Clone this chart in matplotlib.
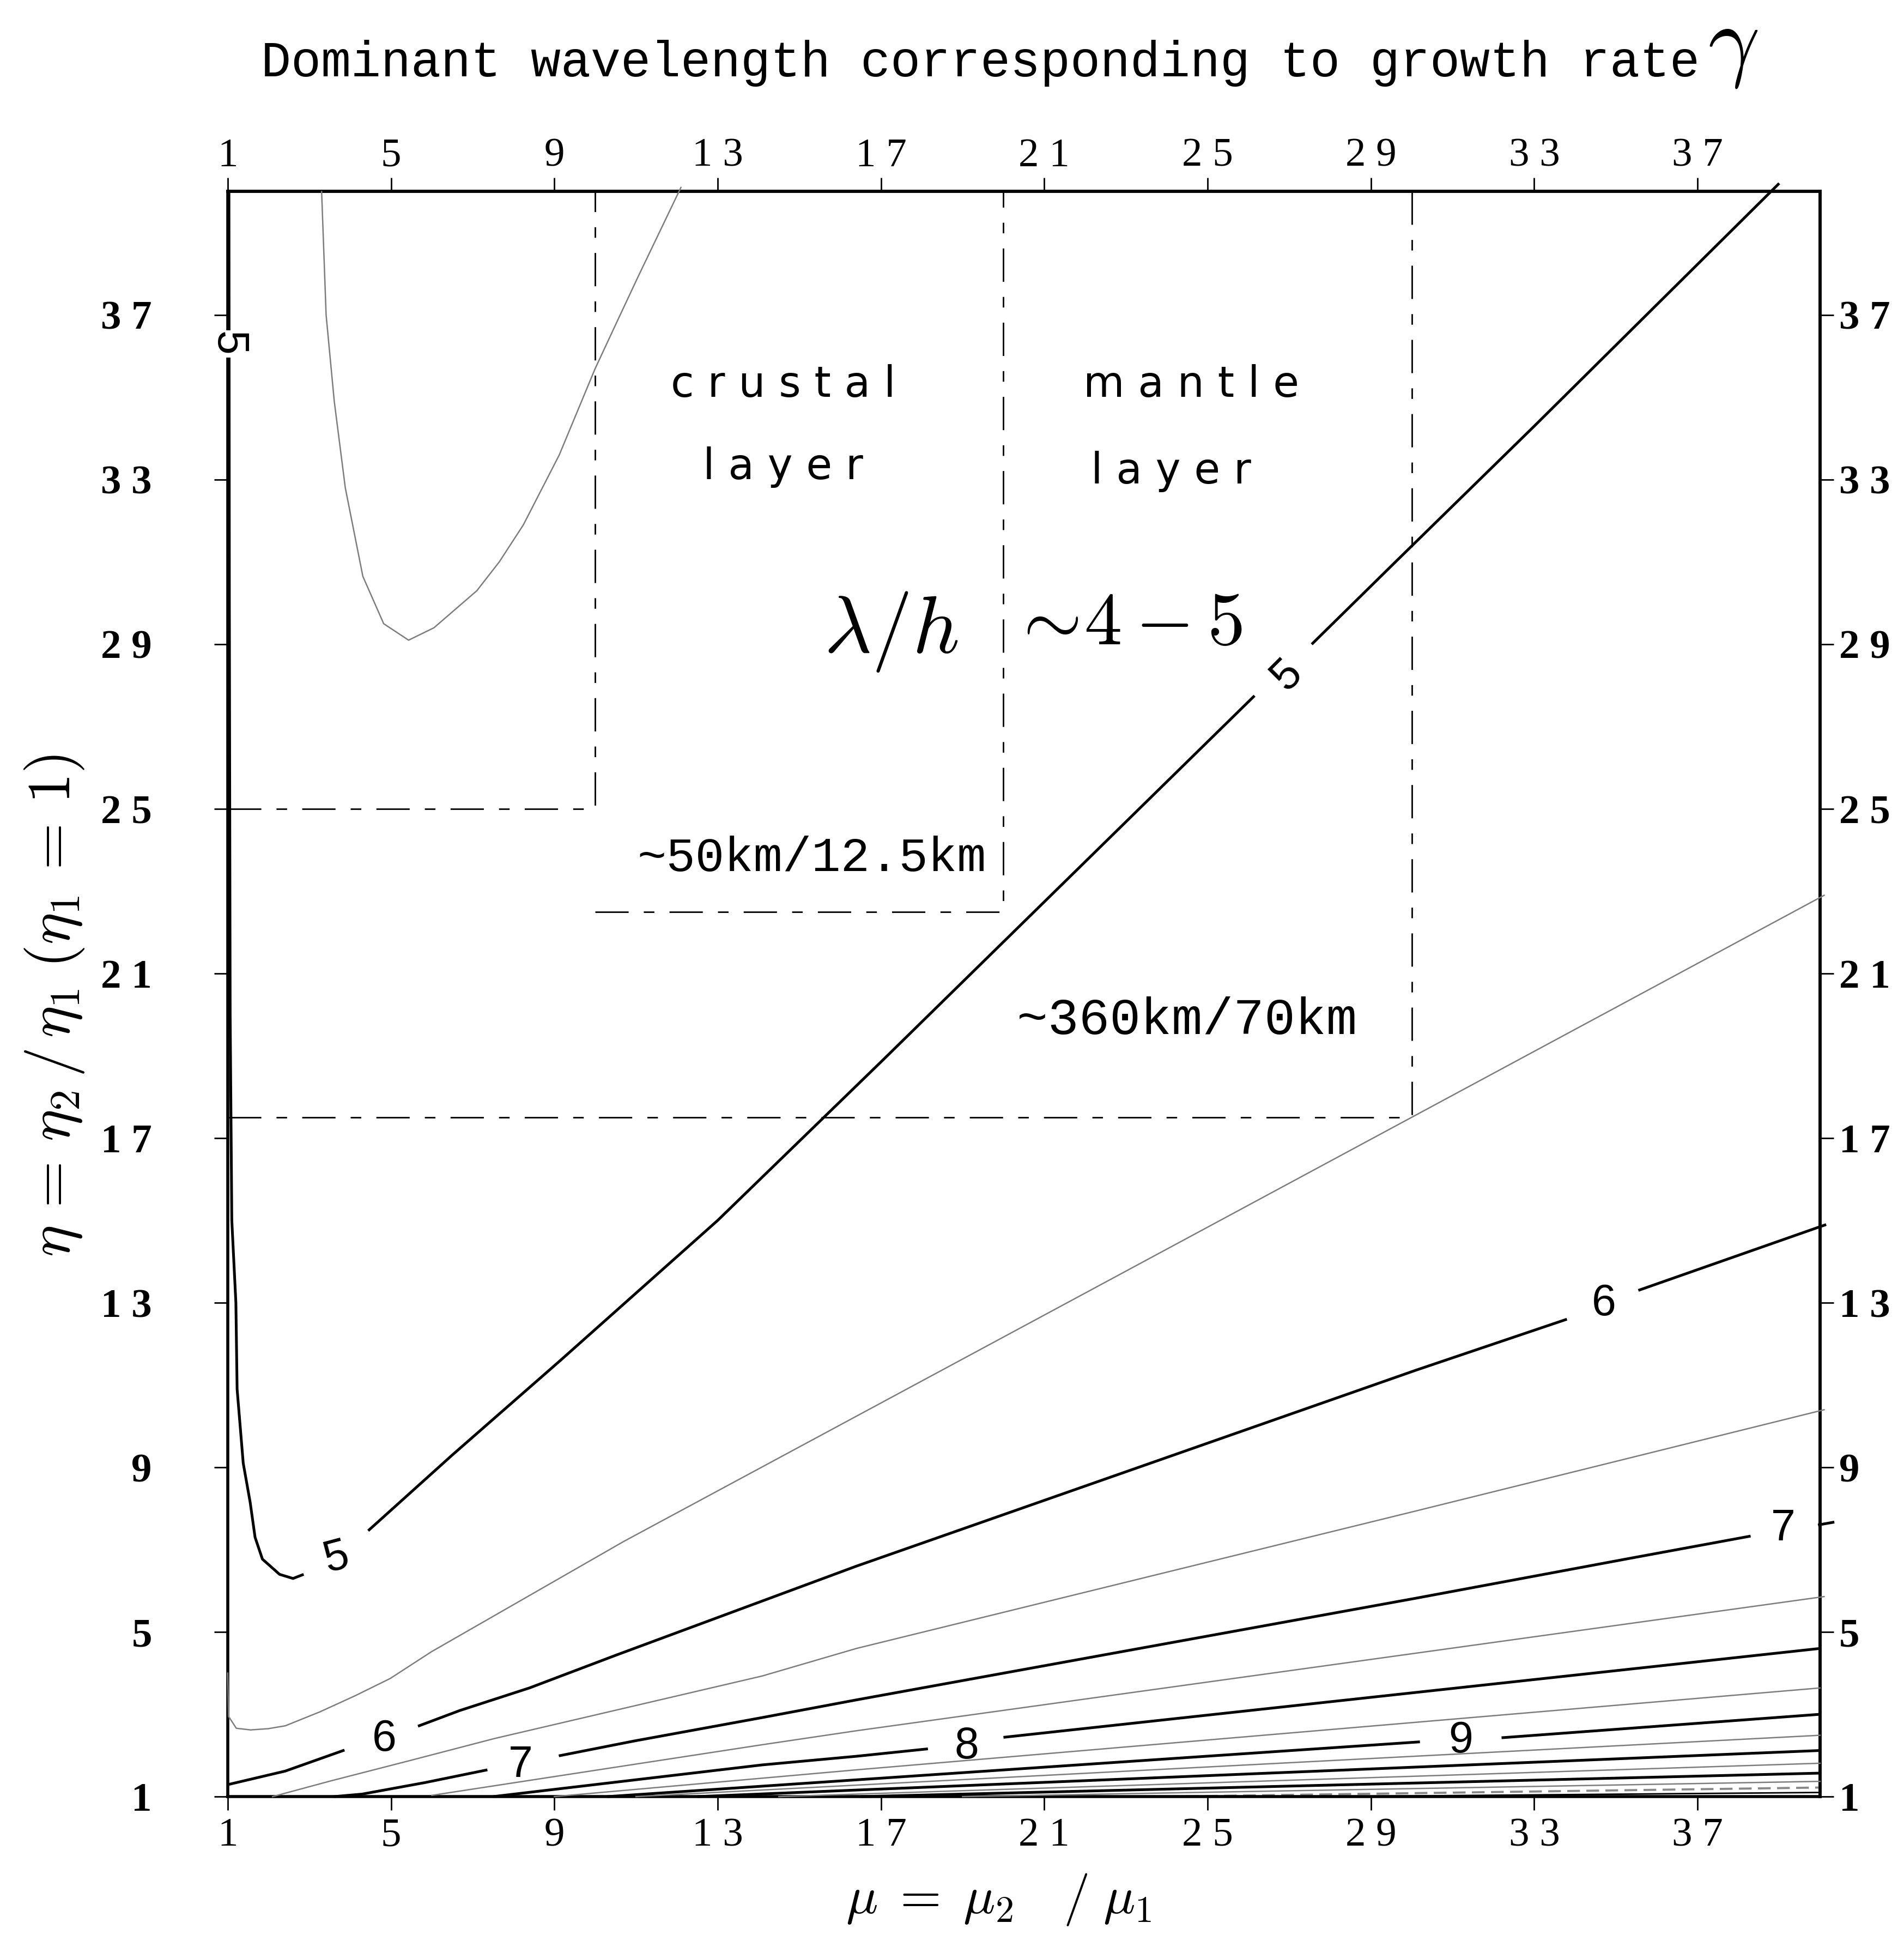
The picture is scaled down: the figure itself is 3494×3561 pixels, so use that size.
import numpy as np
import matplotlib.pyplot as plt

plt.rcParams['font.family'] = 'Liberation Serif'
plt.rcParams['mathtext.fontset'] = 'cm'

nan = np.nan

# axis ticks, printed with spaced digits
ticks = [1, 5, 9, 13, 17, 21, 25, 29, 33, 37]
tick_labels = ['1', '5', '9', '1 3', '1 7', '2 1', '2 5', '2 9', '3 3', '3 7']

# contours of lambda/h over (mu, eta); nan leaves a gap for the level label
lam45_mu = [3.3, 3.41, 3.61, 3.88, 4.31, 4.82, 5.43, 6.05, 7.1, 7.65, 8.24, 9.12, 10.0, 10.54, 11.06, 12.1]
lam45_eta = [40.0, 37.0, 34.9, 32.8, 30.65, 29.5, 29.1, 29.4, 30.3, 31.0, 31.9, 33.6, 35.7, 36.85, 37.95, 40.1]

lam5_mu = [1.03, 1.04, 1.06, 1.1, 1.2, 1.23, 1.38, 1.55, 1.67, 1.85, 2.27, 2.6, 2.86, nan,
           4.44, 6.5, 9.15, 13.0, 17.05, 26.15, nan, 27.55, 29.6, 33.0, 39.0]
lam5_eta = [40.0, 30.0, 20.0, 15.0, 13.0, 10.9, 9.1, 8.15, 7.3, 6.77, 6.4, 6.3, 6.4, nan,
            7.46, 9.3, 11.6, 15.0, 18.9, 27.75, nan, 29.0, 31.0, 34.3, 40.2]

lam55_mu = [1.0, 1.02, 1.21, 1.56, 1.99, 2.41, 3.26, 4.12, 4.98, 5.99, 10.7, 40.1]
lam55_eta = [4.0, 2.95, 2.66, 2.62, 2.65, 2.72, 3.06, 3.45, 3.87, 4.52, 7.2, 22.9]

lam6_mu = [1.0, 2.41, 3.86, nan, 5.66, 6.68, 8.39, 10.52, 16.4, 30.1, 33.8, nan, 35.55, 40.15]
lam6_eta = [1.29, 1.62, 2.13, nan, 2.71, 3.09, 3.64, 4.44, 6.6, 11.36, 12.6, nan, 13.3, 14.9]

lam65_mu = [2.1, 3.52, 5.48, 7.53, 14.09, 16.4, 30.1, 40.1]
lam65_eta = [1.0, 1.38, 1.88, 2.41, 3.93, 4.6, 7.94, 10.4]

lam7_mu = [3.6, 4.29, 5.83, 7.36, nan, 9.11, 10.95, 14.09, 16.4, 30.1, 35.4, 38.3, nan, 39.95, 40.35]
lam7_eta = [1.0, 1.06, 1.34, 1.65, nan, 1.99, 2.35, 2.92, 3.35, 5.82, 6.8, 7.33, nan, 7.6, 7.67]

lam75_mu = [6.0, 14.09, 16.4, 40.1]
lam75_eta = [1.03, 2.26, 2.6, 5.86]

lam8_mu = [7.5, 14.09, 16.4, 18.15, nan, 20.0, 40.0]
lam8_eta = [1.0, 1.77, 1.98, 2.16, nan, 2.44, 4.6]

lam85_mu = [9.0, 16.4, 40.0]
lam85_eta = [1.0, 1.65, 3.64]

lam9_mu = [10.3, 13.9, 30.2, nan, 32.2, 40.0]
lam9_eta = [1.0, 1.24, 2.33, nan, 2.43, 3.0]

lam95_mu = [11.0, 13.9, 40.0]
lam95_eta = [1.0, 1.15, 2.49]
lam10_mu = [12.5, 40.0]
lam10_eta = [1.0, 2.12]
lam105_mu = [14.5, 40.0]
lam105_eta = [1.0, 1.81]
lam11_mu = [16.5, 40.0]
lam11_eta = [1.0, 1.57]
lam115_mu = [19.0, 40.0]
lam115_eta = [1.0, 1.37]
lam12_mu = [24.0, 40.0]
lam12_eta = [1.0, 1.22]
lam125_mu = [28.0, 40.0]
lam125_eta = [1.0, 1.1]

# level labels
clab_text = ['5', '5', '5', '6', '6', '7', '7', '8', '9']
clab_mu = [1.0, 3.67, 26.95, 4.84, 34.7, 8.17, 39.1, 19.1, 31.2]
clab_eta = [36.3, 6.8, 28.25, 2.39, 12.97, 1.76, 7.5, 2.2, 2.35]
clab_rot = [-90, 15, 45, 0, 0, 0, 0, 0, 0]

# dashed outlines of the crustal and mantle ranges
crust_mu = [1.0, 10.0, 10.0]
crust_eta = [25.0, 25.0, 40.0]
crust2_mu = [10.0, 20.0, 20.0]
crust2_eta = [22.5, 22.5, 40.0]
mantle_mu = [1.0, 30.0, 30.0]
mantle_eta = [17.5, 17.5, 40.0]

fig = plt.figure(figsize=(17.47, 17.805), dpi=200)
ax = fig.add_axes([0.1196, 0.0744, 0.8363, 0.8269])
ax.set_xlim(1, 40)
ax.set_ylim(1, 40)

thick = dict(color='black', lw=1.8, solid_capstyle='butt', solid_joinstyle='round',
             clip_on=False, zorder=3)
thin = dict(color='#7d7d7d', lw=0.9, solid_joinstyle='round', clip_on=False, zorder=3)

for mu, eta in [(lam5_mu, lam5_eta), (lam6_mu, lam6_eta), (lam7_mu, lam7_eta),
                (lam8_mu, lam8_eta), (lam9_mu, lam9_eta), (lam10_mu, lam10_eta),
                (lam11_mu, lam11_eta)]:
    ax.plot(mu, eta, **thick)

for mu, eta in [(lam45_mu, lam45_eta), (lam55_mu, lam55_eta), (lam65_mu, lam65_eta),
                (lam75_mu, lam75_eta), (lam85_mu, lam85_eta), (lam95_mu, lam95_eta),
                (lam105_mu, lam105_eta), (lam115_mu, lam115_eta)]:
    ax.plot(mu, eta, **thin)

ax.plot(lam12_mu, lam12_eta, color='#888888', lw=1.4, linestyle=(0, (6, 3)), clip_on=False)
ax.plot(lam125_mu, lam125_eta, color='black', lw=1.0, clip_on=False)

dash = dict(color='black', lw=1.0, linestyle=(0, (22, 10, 7, 10)))
ax.plot(crust_mu, crust_eta, **dash)
ax.plot(crust2_mu, crust2_eta, **dash)
ax.plot(mantle_mu, mantle_eta, **dash)

for t, x, y, r in zip(clab_text, clab_mu, clab_eta, clab_rot):
    kw = {}
    if r == -90:
        kw = dict(bbox=dict(facecolor='white', edgecolor='none', pad=1))
    ax.text(x, y, t, family='Liberation Sans', fontsize=29, rotation=r,
            ha='center', va='center', zorder=5, clip_on=False, **kw)

# region annotations
ax.text(14.6, 35.3, 'c r u s t a l', family='DejaVu Sans', fontsize=28, ha='center', va='center')
ax.text(14.6, 33.3, 'l a y e r', family='DejaVu Sans', fontsize=28, ha='center', va='center')
ax.text(24.6, 35.3, 'm a n t l e', family='DejaVu Sans', fontsize=28, ha='center', va='center')
ax.text(24.1, 33.2, 'l a y e r', family='DejaVu Sans', fontsize=28, ha='center', va='center')
ax.text(15.6, 28.8, r'$\lambda/h$', fontsize=54, ha='left', va='baseline')
ax.text(20.15, 29.0, r'$\sim\!4-5$', fontsize=50, ha='left', va='baseline')
ax.text(15.3, 23.8, '~50km/12.5km', family='Liberation Mono', fontsize=32, ha='center', va='center')
ax.text(24.5, 19.85, '~360km/70km', family='Liberation Mono', fontsize=34, ha='center', va='center')

# ticks on all four sides
ax.set_xticks(ticks, tick_labels)
ax.set_yticks(ticks, tick_labels)
ax.tick_params(direction='out', length=9, width=1.0, labelsize=27)
ax.tick_params(axis='x', pad=5)
ax.tick_params(axis='y', pad=41)
for lab in ax.get_yticklabels():
    lab.set_fontweight('bold')

secx = ax.secondary_xaxis('top')
secx.set_xticks(ticks, tick_labels)
secx.tick_params(direction='out', length=9, width=1.0, labelsize=27, pad=2)
secy = ax.secondary_yaxis('right')
secy.set_yticks(ticks, tick_labels)
secy.tick_params(direction='out', length=9, width=1.0, labelsize=27, pad=3.6)
for lab in secy.get_yticklabels():
    lab.set_fontweight('bold')

for a in (ax, secx, secy):
    for s in a.spines.values():
        s.set_linewidth(2.0)

fig.text(0.515, 0.9674, 'Dominant wavelength corresponding to growth rate',
         family='Liberation Mono', fontsize=33, ha='center', va='center')
fig.text(0.897, 0.975, r'$\gamma$', fontsize=60, ha='left', va='center')
fig.text(0.5246, 0.0143, r'$\mu\;=\;\mu_2\quad/\;\mu_1$', fontsize=35, ha='center', va='baseline')
fig.text(0.0286, 0.482, r'$\eta\,=\,\eta_2\,/\,\eta_1\;(\eta_1\,=\,1)$', rotation=90,
         fontsize=40, ha='center', va='center')

fig.savefig('out.png', dpi=200)
